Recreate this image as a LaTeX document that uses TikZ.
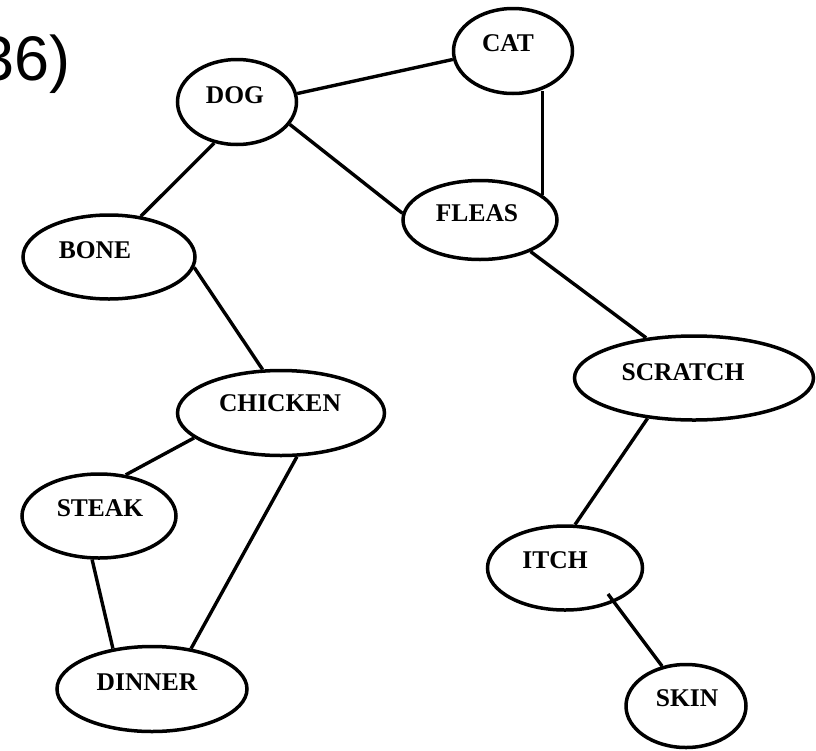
\documentclass[tikz,border=0pt]{standalone}
\usepackage{fontspec}
\setmainfont{Liberation Serif}
\newfontfamily\numfont{Liberation Sans}
\usetikzlibrary{shapes.geometric}

\tikzset{
  blob/.style={draw=black, line width=3.5pt, ellipse, inner sep=0pt},
  word/.style={font=\fontsize{25.5}{30}\selectfont\bfseries, inner sep=0pt},
  link/.style={draw=black, line width=3.4pt}
}

\begin{document}
\begin{tikzpicture}[x=1pt, y=-1pt]
  \useasboundingbox (0,0) rectangle (816,750);
  \fill[white] (0,0) rectangle (816,750);

  % question number, running off the left edge
  \node[anchor=base west, inner sep=0pt, font=\numfont\fontsize{63}{70}\selectfont] (qnum) at (-21,80) {36)};

  % concept nodes
  \node[blob, minimum width=119pt, minimum height=85pt,
        label={[word, xshift=-5pt, yshift=8pt]center:CAT}] (cat) at (513,51) {};
  \node[blob, minimum width=119pt, minimum height=85pt,
        label={[word, xshift=-2pt, yshift=7pt]center:DOG}] (dog) at (237,102) {};
  \node[blob, minimum width=154pt, minimum height=79pt,
        label={[word, xshift=-3pt, yshift=7pt]center:FLEAS}] (fleas) at (480,220) {};
  \node[blob, minimum width=172pt, minimum height=84pt,
        label={[word, xshift=-14pt, yshift=7pt]center:BONE}] (bone) at (109,257) {};
  \node[blob, minimum width=207pt, minimum height=85pt,
        label={[word, xshift=-1pt, yshift=10pt]center:CHICKEN}] (chicken) at (281,413) {};
  \node[blob, minimum width=154pt, minimum height=84pt,
        label={[word, xshift=1pt, yshift=8pt]center:STEAK}] (steak) at (99,516) {};
  \node[blob, minimum width=190pt, minimum height=85pt,
        label={[word, xshift=-5pt, yshift=7pt]center:DINNER}] (dinner) at (152,689) {};
  \node[blob, minimum width=239pt, minimum height=84pt,
        label={[word, xshift=-11pt, yshift=6pt]center:SCRATCH}] (scratch) at (694,378) {};
  \node[blob, minimum width=155pt, minimum height=84pt,
        label={[word, xshift=-10pt, yshift=8pt]center:ITCH}] (itch) at (565,568) {};
  \node[blob, minimum width=120pt, minimum height=83pt,
        label={[word, xshift=1pt, yshift=8pt]center:SKIN}] (skin) at (686,706) {};

  % the ITCH--SKIN line starts a little inside the ITCH ellipse
  \coordinate (itchtail) at (608,594);

  % links
  \draw[link] (dog.8)       -- (cat.188);
  \draw[link] (fleas.22 |- cat.-58) -- (fleas.22);
  \draw[link] (dog.-23)     -- (fleas.175);
  \draw[link] (dog.-119)    -- (bone.52);
  \draw[link] (fleas.-32)   -- (scratch.140);
  \draw[link] (bone.-7)     -- (chicken.113);
  \draw[link] (chicken.196) -- (steak.57);
  \draw[link] (chicken.-70) -- (dinner.46);
  \draw[link] (steak.-99)   -- (dinner.134);
  \draw[link] (scratch.221) -- (itch.77);
  \draw[link] (itchtail)    -- (skin.121);
\end{tikzpicture}
\end{document}
